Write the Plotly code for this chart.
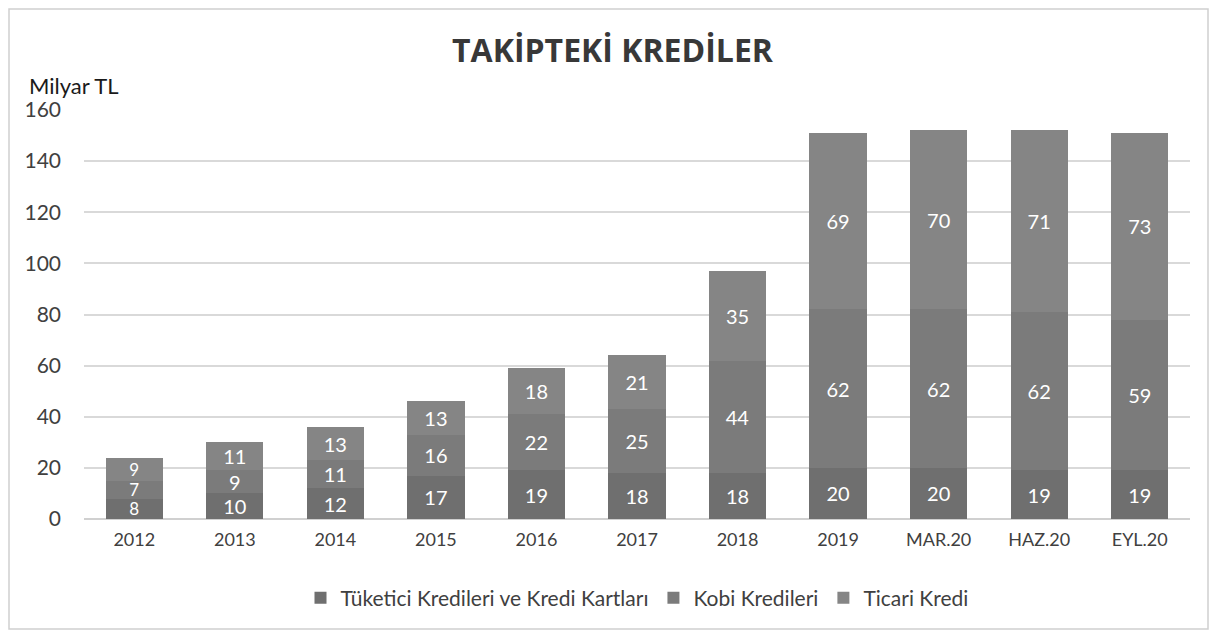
import plotly.graph_objects as go

categories = ["2012", "2013", "2014", "2015", "2016", "2017", "2018", "2019", "MAR.20", "HAZ.20", "EYL.20"]
tuketici = [8, 10, 12, 17, 19, 18, 18, 20, 20, 19, 19]
kobi = [7, 9, 11, 16, 22, 25, 44, 62, 62, 62, 59]
ticari = [9, 11, 13, 13, 18, 21, 35, 69, 70, 71, 73]
series_names = ["Tüketici Kredileri ve Kredi Kartları", "Kobi Kredileri", "Ticari Kredi"]
colors = ["#6f6f6f", "#7b7b7b", "#858585"]
y_ticks = [0, 20, 40, 60, 80, 100, 120, 140, 160]

FONT = "Lato, 'Open Sans', sans-serif"

# page offset caused by default body margin
OFF = 8
W, H = 1217 - OFF, 635 - OFF

# desired page-pixel positions of plot area
PL, PR, PT, PB = 84, 1190, 110, 519
L = PL - OFF
R = W - (PR - OFF)
T = PT - OFF
B = H - (PB - OFF)
pw, ph = W - L - R, H - T - B


def px_x(x):
    return (x - OFF - L) / pw


def px_y(y):
    return (H - B - (y - OFF)) / ph


fig = go.Figure()
for name, vals, col in zip(series_names, [tuketici, kobi, ticari], colors):
    sizes = [17 if v < 10 and c == "2012" else 20 for v, c in zip(vals, categories)]
    fig.add_trace(go.Bar(
        x=categories, y=vals, name=name, marker=dict(color=col, line=dict(width=0)),
        text=[str(v) for v in vals], textposition="inside", insidetextanchor="middle",
        constraintext="none", textangle=0,
        textfont=dict(color="white", size=sizes, family=FONT),
        hoverinfo="skip",
    ))

fig.update_layout(
    width=W, height=H,
    barmode="stack", bargap=0.43,
    paper_bgcolor="white", plot_bgcolor="white",
    margin=dict(l=L, r=R, t=T, b=B),
    font=dict(family=FONT, color="#404040"),
    title=dict(text="<b>TAKİPTEKİ KREDİLER</b>", x=0.5, xanchor="center", y=1 - (51 - OFF) / H, yanchor="middle",
               font=dict(family="'Open Sans', sans-serif", size=32, color="#383838")),
    xaxis=dict(tickfont=dict(size=18, color="#404040"), showgrid=False, showline=False, ticks="", ticklabelstandoff=8),
    yaxis=dict(range=[0, 160], tickvals=y_ticks, tickfont=dict(size=21, color="#404040"),
               gridcolor="#d9d9d9", gridwidth=1.5, zeroline=True, zerolinecolor="#d0d0d0", zerolinewidth=2,
               showline=False, ticks="", ticklabelstandoff=22),
    legend=dict(orientation="h", x=0.5, xanchor="center", y=px_y(598), yanchor="middle",
                font=dict(size=21, color="#404040"), traceorder="normal", itemwidth=30,
                bgcolor="rgba(0,0,0,0)"),
    showlegend=True,
    annotations=[dict(text="Milyar TL", xref="paper", yref="paper", x=px_x(27), y=px_y(85),
                      xanchor="left", yanchor="middle", showarrow=False,
                      font=dict(size=22, color="#1a1a1a", family=FONT))],
    shapes=[dict(type="rect", xref="paper", yref="paper", x0=px_x(9), x1=px_x(1208), y0=px_y(629), y1=px_y(9),
                 line=dict(color="#d0d0d0", width=1.5), fillcolor="rgba(0,0,0,0)", layer="below")],
)

fig.write_html("out.html")
